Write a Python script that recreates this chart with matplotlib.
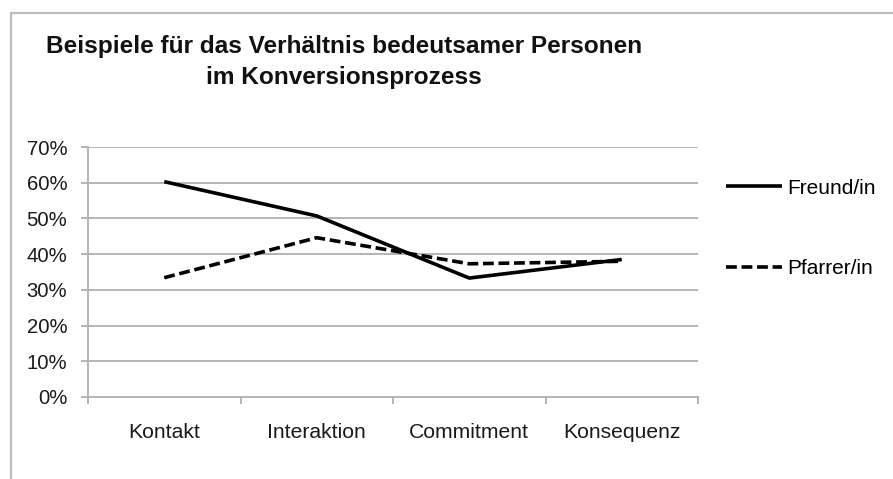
import matplotlib
matplotlib.use('Agg')
import matplotlib.pyplot as plt
from matplotlib.lines import Line2D
from matplotlib.ticker import FixedLocator, PercentFormatter

plt.rcParams['font.family'] = ['Liberation Sans', 'DejaVu Sans']

categories = ['Kontakt', 'Interaktion', 'Commitment', 'Konsequenz']
freund = [60.3, 50.7, 33.3, 38.5]
pfarrer = [33.4, 44.6, 37.3, 38.0]
series_names = ['Freund/in', 'Pfarrer/in']

W, H = 893, 479
fig = plt.figure(figsize=(W / 100, H / 100), dpi=100)
ax = fig.add_axes([88 / W, 1 - 397 / H, (698 - 88) / W, (397 - 147) / H])

grey = '#b4b4b4'
x = [i + 0.5 for i in range(len(categories))]

l1, = ax.plot(x, freund, color='black', lw=2.6, solid_capstyle='butt')
l2, = ax.plot(x, pfarrer, color='black', lw=2.6, linestyle=(0, (3, 1.3)))

ax.set_xlim(0, len(categories))
ax.set_ylim(0, 70)
ax.set_yticks(range(0, 71, 10))
ax.yaxis.set_major_formatter(PercentFormatter(decimals=0))
ax.grid(axis='y', color=grey, lw=1.4)
ax.set_axisbelow(True)

ax.xaxis.set_major_locator(FixedLocator(range(len(categories) + 1)))
ax.xaxis.set_minor_locator(FixedLocator(x))
ax.set_xticklabels([])
ax.set_xticklabels(categories, minor=True)
ax.tick_params(axis='x', which='major', length=5, width=1.4, color=grey, direction='out')
ax.tick_params(axis='x', which='minor', length=0, pad=19, labelsize=15.2, labelcolor='#1a1a1a')
ax.tick_params(axis='y', length=5, width=1.4, color=grey, pad=10, labelsize=14.6, labelcolor='#1a1a1a')

for s in ['top', 'right']:
    ax.spines[s].set_visible(False)
for s in ['left', 'bottom']:
    ax.spines[s].set_color(grey)
    ax.spines[s].set_linewidth(1.4)

fig.text(344 / W, 1 - 84 / H, 'Beispiele für das Verhältnis bedeutsamer Personen\nim Konversionsprozess',
         ha='center', va='baseline', fontsize=17.6, fontweight='bold', linespacing=1.45,
         color='#111111')

leg = fig.legend([l1, l2], series_names, loc='upper left',
                 bbox_to_anchor=(707 / W, 1 - 160 / H), frameon=False,
                 fontsize=15.0, handlelength=2.7, handletextpad=0.25, labelspacing=2.95)

# chart frame (partly outside the image)
fig.add_artist(Line2D([11 / W, 1], [1 - 13 / H, 1 - 13 / H], color='#bdbdbd', lw=1.6))
fig.add_artist(Line2D([11 / W, 11 / W], [0, 1 - 13 / H], color='#bdbdbd', lw=1.6))

fig.savefig('out.png', dpi=100)
